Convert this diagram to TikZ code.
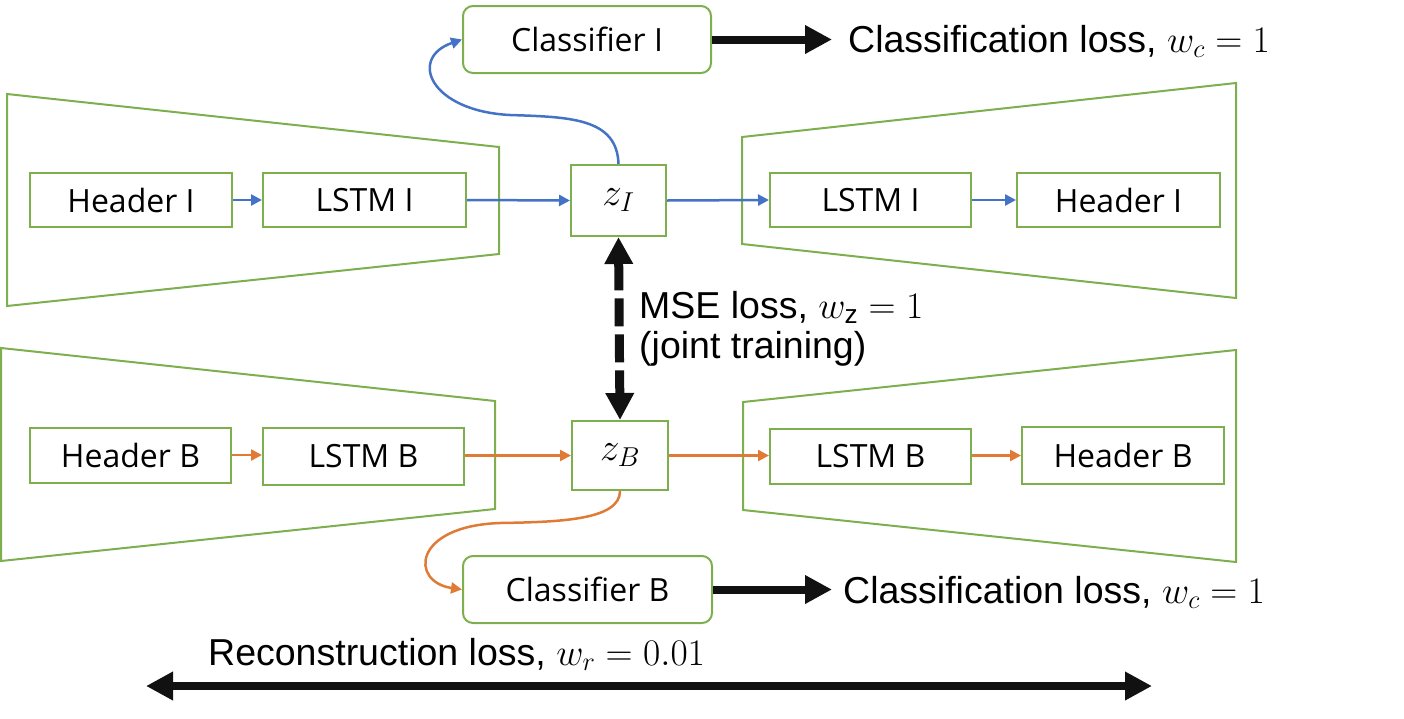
\RequirePackage{fix-cm}
\documentclass[tikz,border=0pt]{standalone}
\usepackage{fontspec}
\setmainfont{Liberation Sans}
\newfontfamily\boxfont{Open Sans}
\usetikzlibrary{arrows.meta}
\definecolor{grn}{HTML}{7DAF4F}
\definecolor{blu}{HTML}{4472C4}
\definecolor{org}{HTML}{E07B35}
\definecolor{blk}{HTML}{111111}
\tikzset{
  blk box/.style={draw=grn, line width=2pt, inner sep=0pt, font=\boxfont\fontsize{32}{38}\selectfont},
  zbox/.style={blk box, font=\fontsize{39}{44}\selectfont},
  trap/.style={draw=grn, line width=2pt},
  bluarr/.style={draw=blu, line width=2.5pt, -{Triangle[length=11pt,width=11pt]}},
  orgarr/.style={draw=org, line width=2.5pt, -{Triangle[length=11pt,width=11pt]}},
  thickarr/.style={draw=blk, line width=8pt, -{Triangle[length=27pt,width=27pt]}},
  lbl/.style={inner sep=0pt, font=\fontsize{37.5}{44}\selectfont, text=black}
}
\begin{document}
\begin{tikzpicture}[x=1pt,y=-1pt]
\useasboundingbox (0,0) rectangle (1404,718);
% trapezoids
\draw[trap] (7,94) -- (499,147) -- (499,254) -- (7,306) -- cycle;
\draw[trap] (742,137) -- (1236,83) -- (1236,298) -- (742,244) -- cycle;
\draw[trap] (1,348) -- (495,401) -- (495,509) -- (1,561) -- cycle;
\draw[trap] (743,402) -- (1236,350) -- (1236,562) -- (743,510) -- cycle;
% nodes top
\node[blk box, minimum width=202pt, minimum height=54pt] (hIL) at (131,200) {Header I};
\node[blk box, minimum width=203pt, minimum height=54pt] (lIL) at (364.5,200) {LSTM I};
\node[zbox, minimum width=95pt, minimum height=71pt] (zI) at (618.5,200.5) {$z_I$};
\node[blk box, minimum width=201pt, minimum height=54pt] (lIR) at (870.5,200) {LSTM I};
\node[blk box, minimum width=203pt, minimum height=54pt] (hIR) at (1118.5,200) {Header I};
% nodes bottom
\node[blk box, minimum width=201pt, minimum height=55pt] (hBL) at (130.5,455) {Header B};
\node[blk box, minimum width=201pt, minimum height=57pt] (lBL) at (363.5,456) {LSTM B};
\node[zbox, minimum width=96pt, minimum height=69pt] (zB) at (620,455.5) {$z_B$};
\node[blk box, minimum width=201pt, minimum height=55pt] (lBR) at (870.5,456.5) {LSTM B};
\node[blk box, minimum width=202pt, minimum height=57pt] (hBR) at (1123,455.5) {Header B};
% classifiers
\node[blk box, rounded corners=10pt, minimum width=248pt, minimum height=67pt] (cI) at (587,39.5) {Classifier I};
\node[blk box, rounded corners=10pt, minimum width=249pt, minimum height=67pt] (cB) at (587.5,589.5) {Classifier B};
% flow arrows
\draw[bluarr] (hIL.east) -- (lIL.west);
\draw[bluarr] (lIL.east) -- (zI.west);
\draw[bluarr] (zI.east) -- (lIR.west);
\draw[bluarr] (lIR.east) -- (hIR.west);
\draw[orgarr] (hBL.east) -- (lBL.west |- hBL.east);
\draw[orgarr] (lBL.east |- zB.west) -- (zB.west);
\draw[orgarr] (zB.east) -- (lBR.west |- zB.east);
\draw[orgarr] (lBR.east |- hBR.west) -- (hBR.west);
% curves to classifiers
\draw[bluarr] (zI.north) .. controls (617,118) and (570,117) .. (510,115) .. controls (430,111) and (408,58) .. (cI.west);
\draw[orgarr] (zB.south) .. controls (620,520) and (560,522) .. (500,523) .. controls (412,526) and (410,582) .. (cB.west);
% classification losses
\coordinate (cIend) at (832,39.5);
\coordinate (cBend) at (832,589.5);
\draw[thickarr] (cI.east) -- (cIend);
\draw[thickarr] (cB.east) -- (cBend);
\node[lbl, anchor=base west] (lossI) at (848,52) {Classification loss, $w_c=1$};
\node[lbl, anchor=base west] (lossB) at (843,603) {Classification loss, $w_c=1$};
% MSE
\draw[draw=blk, line width=9pt, dash pattern=on 28pt off 8pt, {Triangle[length=27pt,width=27pt]}-{Triangle[length=27pt,width=27pt]}] (zI.south) -- (zB.north);
\node[lbl, anchor=base west] (mse) at (639,318) {MSE loss, $w_{\mathrm{z}}=1$};
\node[lbl, anchor=base west] (joint) at (639,358) {(joint training)};
% reconstruction
\coordinate (rL) at (146,686);
\coordinate (rR) at (1152,686);
\draw[draw=blk, line width=8pt, {Triangle[length=27pt,width=27pt]}-{Triangle[length=27pt,width=27pt]}] (rL) -- (rR);
\node[lbl, anchor=base west] (rec) at (208,665) {Reconstruction loss, $w_r=0.01$};
\end{tikzpicture}
\end{document}
